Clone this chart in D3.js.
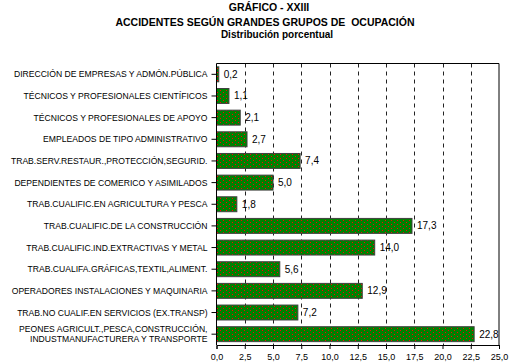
<!DOCTYPE html>
<html>
<head>
<meta charset="utf-8">
<script src="https://cdn.jsdelivr.net/npm/d3@7"></script>
<style>
	body { margin: 0; background: #fff; }
	text { font-family: "Liberation Sans", Arial, sans-serif; fill: #000; }
</style>
</head>
<body>
<div id="chart"></div>
<script>
var categories = [
	["DIRECCIÓN DE EMPRESAS Y ADMÓN.PÚBLICA"],
	["TÉCNICOS Y PROFESIONALES CIENTÍFICOS"],
	["TÉCNICOS Y PROFESIONALES DE APOYO"],
	["EMPLEADOS DE TIPO ADMINISTRATIVO"],
	["TRAB.SERV.RESTAUR.,PROTECCIÓN,SEGURID."],
	["DEPENDIENTES DE COMERICO Y ASIMILADOS"],
	["TRAB.CUALIFIC.EN AGRICULTURA Y PESCA"],
	["TRAB.CUALIFIC.DE LA CONSTRUCCIÓN"],
	["TRAB.CUALIFIC.IND.EXTRACTIVAS Y METAL"],
	["TRAB.CUALIFA.GRÁFICAS,TEXTIL,ALIMENT."],
	["OPERADORES INSTALACIONES Y MAQUINARIA"],
	["TRAB.NO CUALIF.EN SERVICIOS (EX.TRANSP)"],
	["PEONES AGRICULT.,PESCA,CONSTRUCCIÓN,", "INDUSTMANUFACTURERA Y TRANSPORTE"]
];

var values = [0.2, 1.1, 2.1, 2.7, 7.4, 5.0, 1.8, 17.3, 14.0, 5.6, 12.9, 7.2, 22.8];

var xTicks = [0, 2.5, 5, 7.5, 10, 12.5, 15, 17.5, 20, 22.5, 25];

var titleLines = [
	"GRÁFICO - XXIII",
	"ACCIDENTES SEGÚN GRANDES GRUPOS DE  OCUPACIÓN",
	"Distribución porcentual"
];

var width = 512,
	height = 364,
	plot = { left: 216.5, right: 499, top: 63.5, bottom: 345 };

var formatComma = function(v) {
	return v.toFixed(1).replace(".", ",");
};

var svg = d3.select("#chart")
	.append("svg")
	.attr("width", width)
	.attr("height", height);

// bar fill: green with sparse red dots
var pattern = svg.append("defs")
	.append("pattern")
	.attr("id", "dots")
	.attr("patternUnits", "userSpaceOnUse")
	.attr("width", 6)
	.attr("height", 4);
pattern.append("rect").attr("width", 6).attr("height", 4).attr("fill", "#008000");
pattern.append("rect").attr("x", 1).attr("y", 0).attr("width", 1).attr("height", 1).attr("fill", "#ff0000");
pattern.append("rect").attr("x", 4).attr("y", 2).attr("width", 1).attr("height", 1).attr("fill", "#ff0000");

var xScale = d3.scaleLinear().domain([0, 25]).range([plot.left, plot.right]);
var yScale = d3.scaleBand()
	.domain(d3.range(categories.length))
	.range([plot.top, plot.bottom])
	.paddingInner(0.31)
	.paddingOuter(0.155);

// titles
var titleY = [11, 26, 37.5],
	titleX = [269, 265, 277];
titleLines.forEach(function(line, i) {
	svg.append("text")
		.attr("x", titleX[i]).attr("y", titleY[i])
		.attr("text-anchor", "middle")
		.style("font-size", i === 2 ? "10px" : "10.5px").style("font-weight", "bold")
		.style("white-space", "pre")
		.text(line);
});

// dashed grid
svg.append("g")
	.selectAll("line")
	.data(xTicks.slice(1, -1))
	.enter().append("line")
	.attr("x1", d => Math.round(xScale(d)) + 0.5)
	.attr("x2", d => Math.round(xScale(d)) + 0.5)
	.attr("y1", plot.top)
	.attr("y2", plot.bottom)
	.attr("stroke", "#222")
	.attr("stroke-dasharray", "4,4");

// frame top + right
svg.append("path")
	.attr("d", "M" + plot.left + "," + plot.top + "H" + plot.right + "V" + plot.bottom)
	.attr("fill", "none")
	.attr("stroke", "#000");

// bars
svg.append("g")
	.selectAll("rect")
	.data(values)
	.enter().append("rect")
	.attr("x", xScale(0))
	.attr("y", (d, i) => yScale(i))
	.attr("width", d => xScale(d) - xScale(0))
	.attr("height", yScale.bandwidth())
	.attr("fill", "url(#dots)")
	.attr("stroke", "#404040")
	.attr("stroke-width", 1);

// value labels
svg.append("g")
	.selectAll("text")
	.data(values)
	.enter().append("text")
	.attr("x", d => xScale(d) + 5)
	.attr("y", (d, i) => yScale(i) + yScale.bandwidth() / 2)
	.attr("dy", "0.35em")
	.style("font-size", "10px")
	.text(d => formatComma(d));

// y axis
var yAxisGroup = svg.append("g")
	.attr("transform", "translate(" + plot.left + ",0)")
	.call(d3.axisLeft(yScale).tickSize(5).tickFormat(""));
yAxisGroup.select(".domain").attr("d", "M0," + plot.top + "V" + plot.bottom);

yAxisGroup.selectAll(".tick").each(function(d) {
	var lines = categories[d];
	var t = d3.select(this).append("text")
		.attr("x", -9)
		.attr("text-anchor", "end")
		.style("font-size", "8.6px")
		.attr("fill", "#000");
	lines.forEach(function(line, k) {
		t.append("tspan")
			.attr("x", -9)
			.attr("dy", k === 0 ? (0.35 - (lines.length - 1) * 0.55) + "em" : "1.1em")
			.text(line);
	});
});

// x axis
var xAxisGroup = svg.append("g")
	.attr("transform", "translate(0," + plot.bottom + ")")
	.call(d3.axisBottom(xScale).tickValues(xTicks).tickSize(4).tickFormat(formatComma));
xAxisGroup.selectAll("text").style("font-size", "9px").attr("dy", "0.9em");
</script>
</body>
</html>
